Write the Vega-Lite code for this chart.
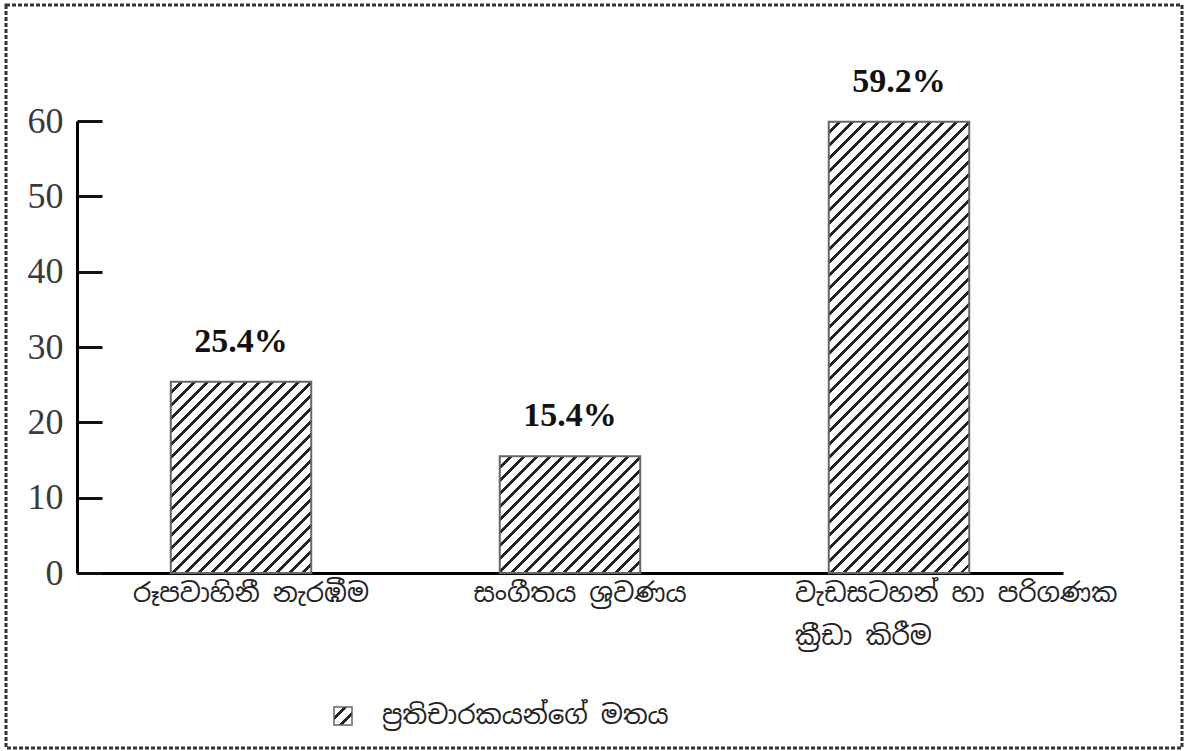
{
  "$schema": "https://vega.github.io/schema/vega-lite/v6.json",
  "autosize": "none",
  "padding": {"left": 6, "top": 5, "right": 2, "bottom": 3},
  "width": 1176,
  "height": 743,
  "background": "#ffffff",
  "params": [
    {"name": "hatch", "value": [
      {"offset":0.014,"color":"#fff"},{"offset":0.014,"color":"#222"},{"offset":0.02,"color":"#222"},{"offset":0.02,"color":"#fff"},
      {"offset":0.034,"color":"#fff"},{"offset":0.034,"color":"#222"},{"offset":0.04,"color":"#222"},{"offset":0.04,"color":"#fff"},
      {"offset":0.054,"color":"#fff"},{"offset":0.054,"color":"#222"},{"offset":0.06,"color":"#222"},{"offset":0.06,"color":"#fff"},
      {"offset":0.074,"color":"#fff"},{"offset":0.074,"color":"#222"},{"offset":0.08,"color":"#222"},{"offset":0.08,"color":"#fff"},
      {"offset":0.094,"color":"#fff"},{"offset":0.094,"color":"#222"},{"offset":0.1,"color":"#222"},{"offset":0.1,"color":"#fff"},
      {"offset":0.114,"color":"#fff"},{"offset":0.114,"color":"#222"},{"offset":0.12,"color":"#222"},{"offset":0.12,"color":"#fff"},
      {"offset":0.134,"color":"#fff"},{"offset":0.134,"color":"#222"},{"offset":0.14,"color":"#222"},{"offset":0.14,"color":"#fff"},
      {"offset":0.154,"color":"#fff"},{"offset":0.154,"color":"#222"},{"offset":0.16,"color":"#222"},{"offset":0.16,"color":"#fff"},
      {"offset":0.174,"color":"#fff"},{"offset":0.174,"color":"#222"},{"offset":0.18,"color":"#222"},{"offset":0.18,"color":"#fff"},
      {"offset":0.194,"color":"#fff"},{"offset":0.194,"color":"#222"},{"offset":0.2,"color":"#222"},{"offset":0.2,"color":"#fff"},
      {"offset":0.214,"color":"#fff"},{"offset":0.214,"color":"#222"},{"offset":0.22,"color":"#222"},{"offset":0.22,"color":"#fff"},
      {"offset":0.234,"color":"#fff"},{"offset":0.234,"color":"#222"},{"offset":0.24,"color":"#222"},{"offset":0.24,"color":"#fff"},
      {"offset":0.254,"color":"#fff"},{"offset":0.254,"color":"#222"},{"offset":0.26,"color":"#222"},{"offset":0.26,"color":"#fff"},
      {"offset":0.274,"color":"#fff"},{"offset":0.274,"color":"#222"},{"offset":0.28,"color":"#222"},{"offset":0.28,"color":"#fff"},
      {"offset":0.294,"color":"#fff"},{"offset":0.294,"color":"#222"},{"offset":0.3,"color":"#222"},{"offset":0.3,"color":"#fff"},
      {"offset":0.314,"color":"#fff"},{"offset":0.314,"color":"#222"},{"offset":0.32,"color":"#222"},{"offset":0.32,"color":"#fff"},
      {"offset":0.334,"color":"#fff"},{"offset":0.334,"color":"#222"},{"offset":0.34,"color":"#222"},{"offset":0.34,"color":"#fff"},
      {"offset":0.354,"color":"#fff"},{"offset":0.354,"color":"#222"},{"offset":0.36,"color":"#222"},{"offset":0.36,"color":"#fff"},
      {"offset":0.374,"color":"#fff"},{"offset":0.374,"color":"#222"},{"offset":0.38,"color":"#222"},{"offset":0.38,"color":"#fff"},
      {"offset":0.394,"color":"#fff"},{"offset":0.394,"color":"#222"},{"offset":0.4,"color":"#222"},{"offset":0.4,"color":"#fff"},
      {"offset":0.414,"color":"#fff"},{"offset":0.414,"color":"#222"},{"offset":0.42,"color":"#222"},{"offset":0.42,"color":"#fff"},
      {"offset":0.434,"color":"#fff"},{"offset":0.434,"color":"#222"},{"offset":0.44,"color":"#222"},{"offset":0.44,"color":"#fff"},
      {"offset":0.454,"color":"#fff"},{"offset":0.454,"color":"#222"},{"offset":0.46,"color":"#222"},{"offset":0.46,"color":"#fff"},
      {"offset":0.474,"color":"#fff"},{"offset":0.474,"color":"#222"},{"offset":0.48,"color":"#222"},{"offset":0.48,"color":"#fff"},
      {"offset":0.494,"color":"#fff"},{"offset":0.494,"color":"#222"},{"offset":0.5,"color":"#222"},{"offset":0.5,"color":"#fff"},
      {"offset":0.514,"color":"#fff"},{"offset":0.514,"color":"#222"},{"offset":0.52,"color":"#222"},{"offset":0.52,"color":"#fff"},
      {"offset":0.534,"color":"#fff"},{"offset":0.534,"color":"#222"},{"offset":0.54,"color":"#222"},{"offset":0.54,"color":"#fff"},
      {"offset":0.554,"color":"#fff"},{"offset":0.554,"color":"#222"},{"offset":0.56,"color":"#222"},{"offset":0.56,"color":"#fff"},
      {"offset":0.574,"color":"#fff"},{"offset":0.574,"color":"#222"},{"offset":0.58,"color":"#222"},{"offset":0.58,"color":"#fff"},
      {"offset":0.594,"color":"#fff"},{"offset":0.594,"color":"#222"},{"offset":0.6,"color":"#222"},{"offset":0.6,"color":"#fff"},
      {"offset":0.614,"color":"#fff"},{"offset":0.614,"color":"#222"},{"offset":0.62,"color":"#222"},{"offset":0.62,"color":"#fff"},
      {"offset":0.634,"color":"#fff"},{"offset":0.634,"color":"#222"},{"offset":0.64,"color":"#222"},{"offset":0.64,"color":"#fff"},
      {"offset":0.654,"color":"#fff"},{"offset":0.654,"color":"#222"},{"offset":0.66,"color":"#222"},{"offset":0.66,"color":"#fff"},
      {"offset":0.674,"color":"#fff"},{"offset":0.674,"color":"#222"},{"offset":0.68,"color":"#222"},{"offset":0.68,"color":"#fff"},
      {"offset":0.694,"color":"#fff"},{"offset":0.694,"color":"#222"},{"offset":0.7,"color":"#222"},{"offset":0.7,"color":"#fff"},
      {"offset":0.714,"color":"#fff"},{"offset":0.714,"color":"#222"},{"offset":0.72,"color":"#222"},{"offset":0.72,"color":"#fff"},
      {"offset":0.734,"color":"#fff"},{"offset":0.734,"color":"#222"},{"offset":0.74,"color":"#222"},{"offset":0.74,"color":"#fff"},
      {"offset":0.754,"color":"#fff"},{"offset":0.754,"color":"#222"},{"offset":0.76,"color":"#222"},{"offset":0.76,"color":"#fff"},
      {"offset":0.774,"color":"#fff"},{"offset":0.774,"color":"#222"},{"offset":0.78,"color":"#222"},{"offset":0.78,"color":"#fff"},
      {"offset":0.794,"color":"#fff"},{"offset":0.794,"color":"#222"},{"offset":0.8,"color":"#222"},{"offset":0.8,"color":"#fff"},
      {"offset":0.814,"color":"#fff"},{"offset":0.814,"color":"#222"},{"offset":0.82,"color":"#222"},{"offset":0.82,"color":"#fff"},
      {"offset":0.834,"color":"#fff"},{"offset":0.834,"color":"#222"},{"offset":0.84,"color":"#222"},{"offset":0.84,"color":"#fff"},
      {"offset":0.854,"color":"#fff"},{"offset":0.854,"color":"#222"},{"offset":0.86,"color":"#222"},{"offset":0.86,"color":"#fff"},
      {"offset":0.874,"color":"#fff"},{"offset":0.874,"color":"#222"},{"offset":0.88,"color":"#222"},{"offset":0.88,"color":"#fff"},
      {"offset":0.894,"color":"#fff"},{"offset":0.894,"color":"#222"},{"offset":0.9,"color":"#222"},{"offset":0.9,"color":"#fff"},
      {"offset":0.914,"color":"#fff"},{"offset":0.914,"color":"#222"},{"offset":0.92,"color":"#222"},{"offset":0.92,"color":"#fff"},
      {"offset":0.934,"color":"#fff"},{"offset":0.934,"color":"#222"},{"offset":0.94,"color":"#222"},{"offset":0.94,"color":"#fff"},
      {"offset":0.954,"color":"#fff"},{"offset":0.954,"color":"#222"},{"offset":0.96,"color":"#222"},{"offset":0.96,"color":"#fff"},
      {"offset":0.974,"color":"#fff"},{"offset":0.974,"color":"#222"},{"offset":0.98,"color":"#222"},{"offset":0.98,"color":"#fff"},
      {"offset":0.994,"color":"#fff"},{"offset":0.994,"color":"#222"},{"offset":1,"color":"#222"},{"offset":1,"color":"#fff"}
    ]}
  ],
  "data": {
    "values": [
      {"activity": "රූපවාහිනී නැරඹීම", "value": 25.4, "label": "25.4%", "series": "ප්‍රතිචාරකයන්ගේ මතය"},
      {"activity": "සංගීතය ශ්‍රවණය", "value": 15.5, "label": "15.4%", "series": "ප්‍රතිචාරකයන්ගේ මතය"},
      {"activity": "වැඩසටහන් හා පරිගණක ක්‍රීඩා කිරීම", "value": 59.9, "label": "59.2%", "series": "ප්‍රතිචාරකයන්ගේ මතය"}
    ]
  },
  "encoding": {
    "x": {
      "field": "activity",
      "type": "nominal",
      "sort": null,
      "scale": {"type": "band", "range": [71, 1057], "paddingInner": 0.573, "paddingOuter": 0.285},
      "axis": {
        "title": null,
        "orient": "bottom",
        "offset": -175,
        "labelAngle": 0,
        "ticks": false,
        "domain": true,
        "domainColor": "#000000",
        "domainWidth": 3,
        "labelFont": "Noto Sans Sinhala, Noto Sans, sans-serif",
        "labelFontSize": 26,
        "labelColor": "#222222",
        "labelPadding": 7,
        "labelLineHeight": 43,
        "labelLimit": 0,
        "labelOverlap": false,
        "labelAlign": {"condition": {"test": "indexof(datum.label, 'පරිගණක') >= 0", "value": "left"}, "value": "center"},
        "labelOffset": {"condition": {"test": "indexof(datum.label, 'පරිගණක') >= 0", "value": -104}, "value": 10},
        "labelExpr": "indexof(datum.label, 'පරිගණක') >= 0 ? ['වැඩසටහන් හා පරිගණක', 'ක්‍රීඩා කිරීම'] : datum.label"
      }
    },
    "y": {
      "field": "value",
      "type": "quantitative",
      "scale": {"domain": [0, 60], "range": [568, 116], "nice": false, "zero": true},
      "axis": {
        "title": null,
        "orient": "left",
        "offset": -71,
        "values": [0, 10, 20, 30, 40, 50, 60],
        "grid": false,
        "domainColor": "#000000",
        "domainWidth": 3,
        "tickColor": "#111111",
        "tickWidth": 3,
        "tickSize": -25,
        "labelFont": "Liberation Serif",
        "labelFontSize": 36,
        "labelColor": "#3a3a3a",
        "labelPadding": 39
      }
    }
  },
  "layer": [
    {
      "mark": {"type": "bar", "strokeWidth": 2},
      "encoding": {
        "stroke": {
          "field": "series",
          "type": "nominal",
          "scale": {"range": ["#666666"]},
          "legend": {
            "title": null,
            "orient": "none",
            "legendX": 324,
            "legendY": 698,
            "symbolType": "square",
            "symbolSize": 324,
            "symbolStrokeWidth": 1.5,
            "labelFont": "Noto Sans Sinhala, Noto Sans, sans-serif",
            "labelFontSize": 26,
            "labelColor": "#222222",
            "labelOffset": 26,
            "labelLimit": 0
          }
        },
        "fill": {
          "condition": [
            {"test": "datum.value > 20 && datum.value < 30", "value": {"expr": "{gradient: 'linear', x1: 0, y1: 0, x2: 1.622, y2: 2.209, stops: hatch}"}},
            {"test": "datum.value < 20", "value": {"expr": "{gradient: 'linear', x1: 0, y1: 0, x2: 2.738, y2: 2.276, stops: hatch}"}},
            {"test": "datum.value > 50", "value": {"expr": "{gradient: 'linear', x1: 0, y1: 0, x2: 0.4092, y2: 1.3141, stops: hatch}"}}
          ],
          "value": {"expr": "{gradient: 'linear', x1: 0, y1: 0, x2: 18.07, y2: 18.07, stops: hatch}"}
        }
      }
    },
    {
      "mark": {"type": "text", "font": "Liberation Serif", "fontWeight": "bold", "fontSize": 34, "color": "#111111", "baseline": "middle", "dy": -40},
      "encoding": {
        "text": {"field": "label", "type": "nominal"}
      }
    }
  ],
  "config": {
    "view": {"stroke": "#333333", "strokeWidth": 3, "strokeDash": [4, 2]},
    "axis": {"grid": false}
  }
}
